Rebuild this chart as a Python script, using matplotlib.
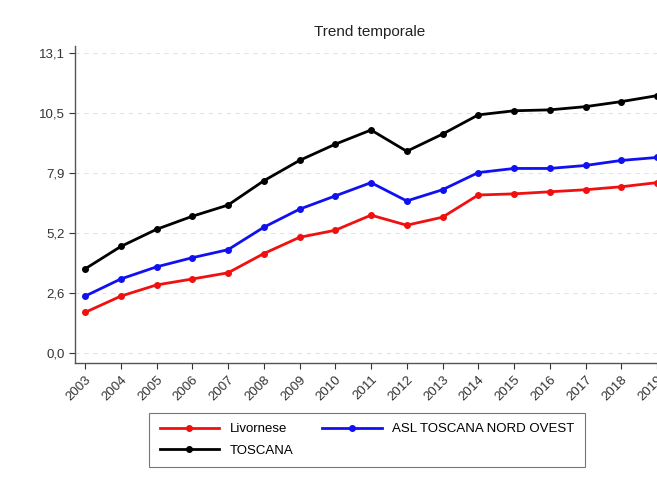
import numpy as np
import matplotlib
matplotlib.use("Agg")
import matplotlib.pyplot as plt

anni = list(range(2003, 2020))

# valori
livornese = [1.77, 2.48, 2.97, 3.23, 3.50, 4.34, 5.05, 5.36, 6.02, 5.58, 5.93,
             6.90, 6.95, 7.04, 7.13, 7.26, 7.44]
asl_nord_ovest = [2.48, 3.23, 3.76, 4.16, 4.51, 5.49, 6.28, 6.86, 7.44, 6.64, 7.13,
                  7.88, 8.06, 8.06, 8.19, 8.41, 8.54]
toscana = [3.67, 4.65, 5.40, 5.97, 6.46, 7.52, 8.41, 9.12, 9.74, 8.81, 9.56,
           10.40, 10.58, 10.62, 10.76, 10.98, 11.24]

y_ticks = np.linspace(0, 13.1, 6)
y_labels = ["0,0", "2,6", "5,2", "7,9", "10,5", "13,1"]

plt.rcParams['font.family'] = ['Liberation Sans', 'DejaVu Sans']

fig = plt.figure(figsize=(6.57, 4.84), dpi=100)
ax = fig.add_axes([75 / 657, 1 - 363 / 484, 1 - 75 / 657, (363 - 46) / 484])

l1, = ax.plot(anni, livornese, color='#f01010', lw=2, marker='o', ms=4, label='Livornese')
l2, = ax.plot(anni, asl_nord_ovest, color='#1010f0', lw=2, marker='o', ms=4,
              label='ASL TOSCANA NORD OVEST')
l3, = ax.plot(anni, toscana, color='black', lw=2, marker='o', ms=4, label='TOSCANA')

ax.set_xlim(2002.72, 2019.0)
ax.set_ylim(-0.44, 13.41)
ax.set_yticks(y_ticks)
ax.set_yticklabels(y_labels)
ax.set_xticks(anni)
ax.set_xticklabels([str(a) for a in anni], rotation=45, ha='right',
                   rotation_mode='anchor')

for y in y_ticks:
    ax.axhline(y, color='#e4e4e4', lw=0.8, ls=(0, (4, 4)), zorder=0)

for s in ['top', 'right']:
    ax.spines[s].set_visible(False)
for s in ['left', 'bottom']:
    ax.spines[s].set_color('#555555')
    ax.spines[s].set_linewidth(1)
ax.tick_params(axis='both', colors='#333333', labelsize=9.5, length=4, width=0.8)

fig.text(370 / 657, 1 - 32 / 484, "Trend temporale", ha='center', va='center',
         fontsize=11, color='#222222')

# ordine: riga 1 Livornese / ASL, riga 2 TOSCANA
leg = fig.legend([l1, l3, l2], [l1.get_label(), l3.get_label(), l2.get_label()],
                 loc='center', bbox_to_anchor=(367 / 657, 1 - 440 / 484), ncol=2,
                 fontsize=9.5, frameon=True, fancybox=False, handlelength=4.5,
                 columnspacing=2.2, borderpad=0.8, labelspacing=0.7,
                 borderaxespad=0)
leg.get_frame().set_edgecolor('#555555')
leg.get_frame().set_linewidth(0.8)

fig.savefig("out.png", dpi=100)
